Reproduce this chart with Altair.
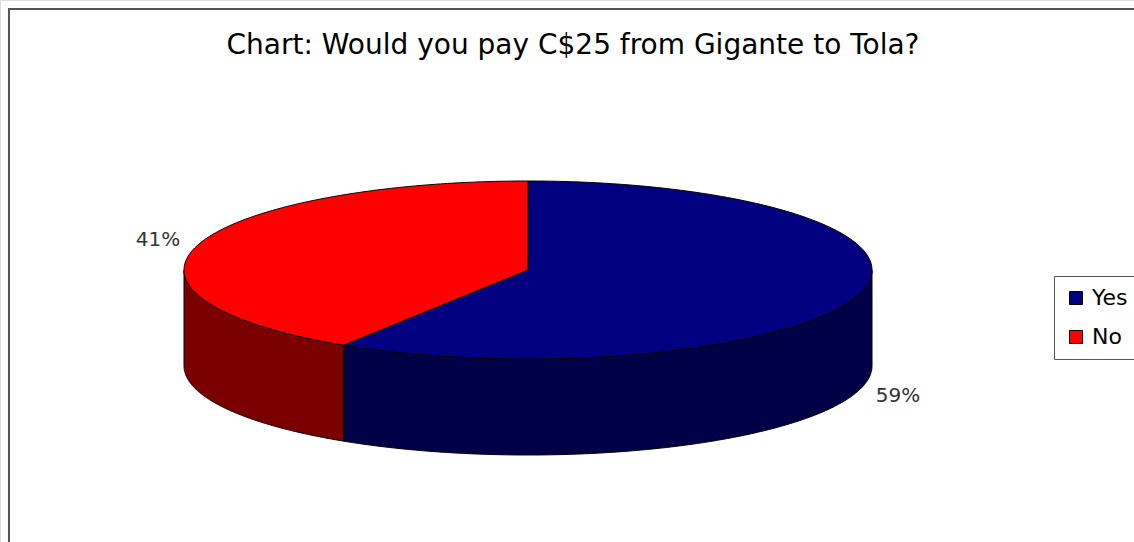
import math
import altair as alt
import pandas as pd

# ---- data ----
categories = ["Yes", "No"]
values = [59, 41]
labels = ["59%", "41%"]
top_colors = ["#000080", "#ff0000"]
side_colors = ["#000046", "#7a0000"]
title_text = "Chart: Would you pay C$25 from Gigante to Tola?"

# ---- layout (pixels) ----
W, H = 1134, 542
CX, CY, RX, RY, DEPTH = 528, 270, 344, 89, 96
d = DEPTH / RY
x_dom = [-CX / RX, (W - CX) / RX]
y_dom = [-(H - CY) / RY, CY / RY]

N = 240
total = sum(values)
start = 0.0
top_rows, side_rows, label_rows = [], [], []
for cat, val, lab in zip(categories, values, labels):
    a0 = 2 * math.pi * start / total
    a1 = 2 * math.pi * (start + val) / total
    # top face sector
    pts = [(0.0, 0.0)]
    for k in range(N + 1):
        t = a0 + (a1 - a0) * k / N
        pts.append((math.sin(t), math.cos(t)))
    pts.append((0.0, 0.0))
    for i, (u, v) in enumerate(pts):
        top_rows.append({"part": cat, "u": u, "v": v, "i": i})
    # visible side (front half)
    s0, s1 = max(a0, math.pi / 2), min(a1, 3 * math.pi / 2)
    if s0 < s1:
        arc = []
        for k in range(N + 1):
            t = s0 + (s1 - s0) * k / N
            arc.append((math.sin(t), math.cos(t)))
        poly = arc + [(u, v - d) for (u, v) in reversed(arc)] + [arc[0]]
        for i, (u, v) in enumerate(poly):
            side_rows.append({"part": cat + " side", "u": u, "v": v, "i": i})
    # label
    mid = (a0 + a1) / 2
    lu = 1.12 * math.sin(mid)
    lv = 1.2 * math.cos(mid) - (d if math.cos(mid) < 0 else 0)
    label_rows.append({"u": lu, "v": lv, "label": lab})
    start += val

top_df = pd.DataFrame(top_rows)
side_df = pd.DataFrame(side_rows)
label_df = pd.DataFrame(label_rows)

fill_scale = alt.Scale(
    domain=categories + [c + " side" for c in categories],
    range=top_colors + side_colors,
)
legend = alt.Legend(
    title=None,
    orient="none",
    legendX=1054,
    legendY=276,
    values=categories,
    symbolType="square",
    symbolSize=169,
    symbolStrokeColor="black",
    symbolStrokeWidth=1,
    symbolOpacity=1,
    labelFont="DejaVu Sans",
    labelFontSize=22,
    labelColor="black",
    labelOffset=5,
    strokeColor="#555555",
    padding=11,
    rowPadding=17,
)

xs = alt.X("u:Q", scale=alt.Scale(domain=x_dom, nice=False, zero=False), axis=None)
ys = alt.Y("v:Q", scale=alt.Scale(domain=y_dom, nice=False, zero=False), axis=None)

side = alt.Chart(side_df).mark_line(stroke="black", strokeWidth=1, strokeJoin="round").encode(
    x=xs, y=ys, order="i:Q", detail="part:N",
    fill=alt.Fill("part:N", scale=fill_scale, legend=legend),
)
top = alt.Chart(top_df).mark_line(stroke="black", strokeWidth=1, strokeJoin="round").encode(
    x=xs, y=ys, order="i:Q", detail="part:N",
    fill=alt.Fill("part:N", scale=fill_scale, legend=legend),
)
text = alt.Chart(label_df).mark_text(
    font="DejaVu Sans", fontSize=20, color="#333333"
).encode(x=xs, y=ys, text="label:N")

frame = alt.Chart(pd.DataFrame({"a": [0]})).mark_rect(
    fillOpacity=0, stroke="#555555", strokeWidth=2
).encode(x=alt.value(9), y=alt.value(9), x2=alt.value(1400), y2=alt.value(900))

chart = alt.layer(frame, side, top, text).properties(
    width=W,
    height=H,
    autosize="none",
    padding=0,
    title=alt.TitleParams(
        text=title_text,
        font="DejaVu Sans",
        fontSize=28,
        fontWeight="normal",
        color="black",
        anchor="middle",
        offset=0,
        baseline="middle",
        dy=74,
        dx=6,
    ),
).configure_view(strokeWidth=0).configure(background="white")

chart.save("out.html", embed_options={"renderer": "svg", "actions": False})
